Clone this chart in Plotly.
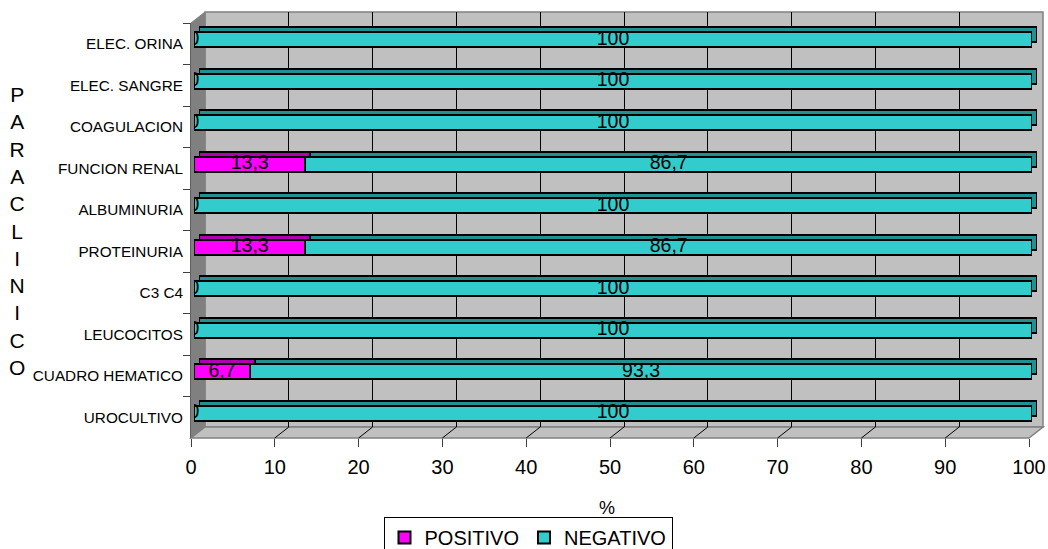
import plotly.graph_objects as go

# Lab tests (top to bottom) and share of results, in percent
tests = ["ELEC. ORINA", "ELEC. SANGRE", "COAGULACION", "FUNCION RENAL", "ALBUMINURIA",
         "PROTEINURIA", "C3 C4", "LEUCOCITOS", "CUADRO HEMATICO", "UROCULTIVO"]
positivo = [0, 0, 0, 13.3, 0, 13.3, 0, 0, 6.7, 0]
negativo = [100, 100, 100, 86.7, 100, 86.7, 100, 100, 93.3, 100]
x_ticks = [0, 10, 20, 30, 40, 50, 60, 70, 80, 90, 100]

W, H = 1048, 549
ML, MR, MT, MB = 191, 5, 12, 111
PW, PH = W - ML - MR, H - MT - MB
FW, FH = 838, 415          # front frame size in px
DX, DY = 14, 11            # depth offset of the back wall in px

def dom_x(shift):
    return [shift / PW, (shift + FW) / PW]

def dom_y(shift):
    return [shift / PH, (shift + FH) / PH]

def px(x, y):
    # pixel position -> paper coordinates
    return (x - ML) / PW, (H - MB - y) / PH

FONT = "Liberation Sans, Arial, sans-serif"
CYAN, CYAN_D = "#33CCCC", "#229090"
MAG, MAG_D = "#FF00FF", "#B000B0"

def fmt(v):
    return f"{v:g}".replace(".", ",")

fig = go.Figure()

# invisible trace that gives the front category axis its labels
fig.add_trace(go.Scatter(x=[0] * len(tests), y=tests, mode="markers",
                         marker=dict(opacity=0), showlegend=False, hoverinfo="skip",
                         xaxis="x", yaxis="y"))

# back wall grid carrier
fig.add_trace(go.Scatter(x=[0] * len(tests), y=tests, mode="markers",
                         marker=dict(opacity=0), showlegend=False, hoverinfo="skip",
                         xaxis="x2", yaxis="y2"))

# depth faces of the bars (drawn first, behind)
for vals, col in ((positivo, MAG_D), (negativo, CYAN_D)):
    fig.add_trace(go.Bar(y=tests, x=vals, orientation="h", width=0.37,
                         marker=dict(color=col, line=dict(color="black", width=2)),
                         xaxis="x3", yaxis="y3", showlegend=False, hoverinfo="skip"))

# front faces of the bars
for name, vals, col in (("POSITIVO", positivo, MAG), ("NEGATIVO", negativo, CYAN)):
    fig.add_trace(go.Bar(y=tests, x=vals, orientation="h", width=0.37, name=name,
                         marker=dict(color=col, line=dict(color="black", width=2)),
                         xaxis="x4", yaxis="y4"))

# value labels centred on each segment
lab_x = [p / 2 for p in positivo] + [p + n / 2 for p, n in zip(positivo, negativo)]
lab_t = [fmt(p) for p in positivo] + [fmt(n) for n in negativo]
fig.add_trace(go.Scatter(x=lab_x, y=tests + tests, mode="text", text=lab_t,
                         textposition="middle center",
                         textfont=dict(family=FONT, size=19.5, color="black"),
                         xaxis="x4", yaxis="y4", showlegend=False, hoverinfo="skip"))

# back wall, left wall and floor
def path(pts):
    s = ""
    for i, (x, y) in enumerate(pts):
        a, b = px(x, y)
        s += ("M" if i == 0 else "L") + f"{a},{b} "
    return s + "Z"

x0, x1 = ML, ML + FW
y_top, y_bot = H - MB - FH, H - MB
shapes = [
    dict(type="path", path=path([(x0 + DX, y_top - DY), (x1 + DX, y_top - DY),
                                 (x1 + DX, y_bot - DY), (x0 + DX, y_bot - DY)]),
         fillcolor="#C0C0C0", line=dict(color="#808080", width=1.5)),
    dict(type="path", path=path([(x0, y_top), (x0 + DX, y_top - DY),
                                 (x0 + DX, y_bot - DY), (x0, y_bot)]),
         fillcolor="#808080", line=dict(color="#808080", width=1)),
    dict(type="path", path=path([(x0, y_bot), (x1, y_bot),
                                 (x1 + DX, y_bot - DY), (x0 + DX, y_bot - DY)]),
         fillcolor="#C0C0C0", line=dict(color="#808080", width=1.5)),
]
for s in shapes:
    s.update(xref="paper", yref="paper", layer="below")
# floor diagonals joining front ticks and back grid lines
for v in x_ticks[1:-1]:
    shapes.append(dict(type="line", xref="x", yref="paper", layer="above",
                       xsizemode="pixel", xanchor=v, x0=0, x1=DX,
                       ysizemode="pixel", yanchor=0, y0=0, y1=DY,
                       line=dict(color="black", width=1)))

def cat_axis():
    return dict(type="category", categoryorder="array", categoryarray=tests,
                range=[9.5, -0.5], fixedrange=True, automargin=False)

fig.update_layout(
    width=W, height=H,
    margin=dict(l=ML, r=MR, t=MT, b=MB, autoexpand=False),
    paper_bgcolor="white", plot_bgcolor="rgba(0,0,0,0)",
    barmode="stack",
    font=dict(family=FONT, color="black"),
    shapes=shapes,
    xaxis=dict(domain=dom_x(0), anchor="y", range=[0, 100], tickvals=x_ticks,
               showgrid=False, zeroline=False, ticks="outside", ticklen=8,
               tickcolor="#404040", showline=False, automargin=False,
               ticklabelstandoff=3,
               tickfont=dict(size=20, family=FONT), fixedrange=True),
    yaxis=dict(domain=dom_y(0), anchor="x", **cat_axis(), showgrid=False,
               ticks="outside", tickson="boundaries", ticklen=7, tickcolor="#404040",
               showline=True, linecolor="#606060", linewidth=1, ticklabelstandoff=4,
               tickfont=dict(size=15.3, family=FONT)),
    xaxis2=dict(domain=dom_x(DX), anchor="y2", range=[0, 100], dtick=10,
                showgrid=True, gridcolor="black", gridwidth=1, automargin=False,
                showticklabels=False, ticks="", zeroline=False, fixedrange=True),
    yaxis2=dict(domain=dom_y(DY), anchor="x2", **cat_axis(), showgrid=False,
                showticklabels=False, ticks=""),
    xaxis3=dict(domain=dom_x(8), anchor="y3", range=[0, 100], visible=False,
                fixedrange=True, automargin=False),
    yaxis3=dict(domain=dom_y(9), anchor="x3", **cat_axis(), visible=False),
    xaxis4=dict(domain=dom_x(3), anchor="y4", range=[0, 100], visible=False,
                fixedrange=True, automargin=False),
    yaxis4=dict(domain=dom_y(4), anchor="x4", **cat_axis(), visible=False),
    legend=dict(orientation="h", x=px(528, 0)[0], xanchor="center",
                y=px(0, 517)[1], yanchor="top",
                bgcolor="white", bordercolor="black", borderwidth=1,
                font=dict(size=20, family=FONT), traceorder="normal", itemwidth=30),
    annotations=[
        dict(text="%", xref="paper", yref="paper", x=px(607, 0)[0], y=px(0, 508)[1],
             xanchor="center", yanchor="middle",
             showarrow=False, font=dict(size=18, family=FONT)),
        dict(text="<br>".join("PARACLINICO"), xref="paper", yref="paper",
             x=px(17, 0)[0], y=px(0, 231)[1], xanchor="center", yanchor="middle",
             showarrow=False, align="center", font=dict(size=21, family=FONT)),
    ],
)

fig.write_html("out.html")
